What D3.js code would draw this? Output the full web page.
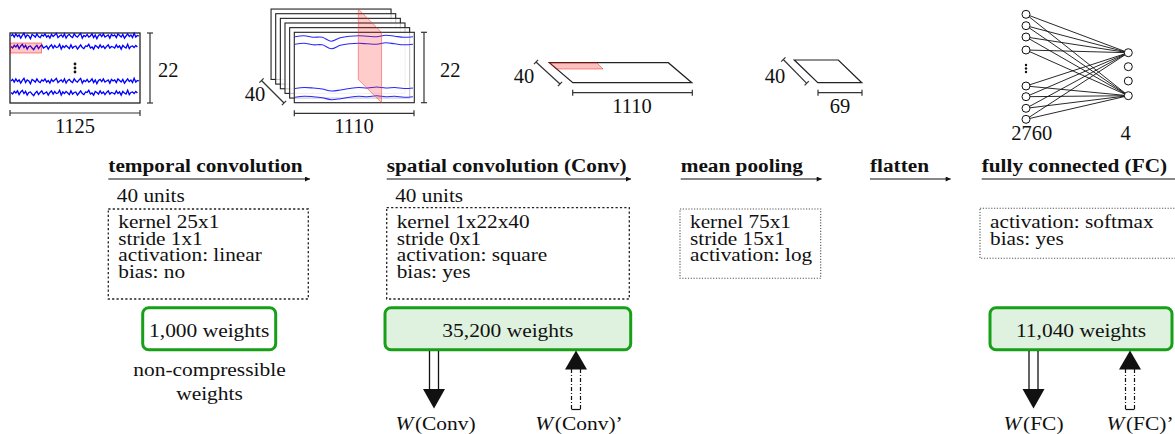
<!DOCTYPE html>
<html>
<head>
<meta charset="utf-8">
<script src="https://cdn.jsdelivr.net/npm/d3@7"></script>
<style>
  body { margin: 0; background: #fff; }
  svg { display: block; }
  svg text { font-family: 'Liberation Serif', 'Times New Roman', Times, serif; }
</style>
</head>
<body>
<svg id="fig" width="1175" height="434"></svg>
<script>
// ---- layer descriptions ----
var layerNames = ["temporal convolution", "spatial convolution (Conv)", "mean pooling", "flatten", "fully connected (FC)"];
var layerUnits = ["40 units", "40 units", null, null, null];
var layerParams = [
  ["kernel 25x1", "stride 1x1", "activation: linear", "bias: no"],
  ["kernel 1x22x40", "stride 0x1", "activation: square", "bias: yes"],
  ["kernel 75x1", "stride 15x1", "activation: log"],
  [],
  ["activation: softmax", "bias: yes"]
];
var weightCounts = [1000, 35200, null, null, 11040];
var weightNames = [null, "Conv", null, null, "FC"];
var weightNote = ["non-compressible", "weights"];

// ---- tensor sizes drawn above the layers ----
var inputDims = [1125, 22];
var tempConvDims = [1110, 22, 40];
var spatConvDims = [1110, 40];
var poolDims = [69, 40];
var fcSizes = [2760, 4];

// ---- signal shapes (px offsets) ----
var eegTraceA = [0, 1.5, -1, 2, -0.5, 1, -2, 0.5, 2.5, -1.5, 1, 0, -2.5, 1.5, 0.5, -1, 2, -0.5, -1.5, 1,
  0, 2, -1, 0.5, -2, 1.5, -0.5, 1, 2.5, -1.5, 0, 1, -1, 2, -2, 0.5, 1.5, -0.5, -1.5, 2,
  0, -1, 1, 2.5, -2, 0.5, -0.5, 1.5, -1, 0, 2, -1.5, 1, -2.5, 0.5, 1.5, -0.5, 2, -1, 0, 1, -2, 1.5, 0,
  1, -1.5, 2, 0.5, -1, 1.5, -2, 0, 2, -0.5, 1, -1.5, 2.5, -1, 0.5, 0];
var eegTraceB = [0.5, -1, 1.5, 0, 2, -1.5, 1, 2.5, -0.5, 1.5, -2, 0.5, 1, -1, -2.5, 0, 1.5, -1.5, 0.5, 2,
  -1, 0, 1, -2, 0.5, 2, -1, 1.5, -0.5, 0, 2.5, -2, 1, -0.5, 1.5, 0, -1.5, 2, -1, 0.5, 1,
  -2, 0, 2, -0.5, -1.5, 1, 0.5, 2.5, -1, 0, -2, 1.5, 0.5, -1, 2, -0.5, 1, -1.5, 0.5, 2, -1, 0.5, 0,
  -1, 2, -0.5, 1, -2, 1.5, 0, -1, 2.5, -1.5, 0.5, 1, -0.5, 1.5, 0];
var smoothTop = [0, -1, 0.5, 0.5, 4.5, 1, -0.5, -1, -0.5, 0, -1.5, -0.5, 0.5, 0];
var smoothBottom = [0.5, -0.5, 0, 1, 3, 2, 0.5, -0.5, 0, -1, 0, -0.5, 0.5, 0];

var svg = d3.select("#fig");
var SX = 1.12; // the original figure is a bit wider than tall
var FONT = "'Liberation Serif', 'Times New Roman', Times, serif";
var green = "#17a017", greenFill = "#dff2df";
var fmt = d3.format(",");

function label(x, y, s, o) {
  o = o || {};
  return svg.append("g")
    .attr("transform", "translate(" + x + "," + y + ") scale(" + (o.sx || SX) + ",1)")
    .append("text")
    .attr("font-family", FONT)
    .attr("text-anchor", o.anchor || "start")
    .attr("font-size", (o.size || 19) + "px")
    .attr("font-weight", o.bold ? "bold" : null)
    .attr("fill", "#111")
    .text(s);
}

function dimBar(x1, y1, x2, y2) {
  var dx = x2 - x1, dy = y2 - y1, len = Math.sqrt(dx * dx + dy * dy);
  var nx = -dy / len * 3, ny = dx / len * 3;
  var g = svg.append("g").attr("stroke", "#333").attr("stroke-width", 1.2);
  g.append("line").attr("x1", x1).attr("y1", y1).attr("x2", x2).attr("y2", y2);
  [[x1, y1], [x2, y2]].forEach(function(p) {
    g.append("line").attr("x1", p[0] - nx).attr("y1", p[1] - ny).attr("x2", p[0] + nx).attr("y2", p[1] + ny);
  });
}

// ---- input EEG ----
var eegX = d3.scaleLinear().domain([0, eegTraceA.length - 1]).range([11, 139]);
var eegY = d3.scaleLinear().domain([-3, 3]).range([3.2, -3.2]);
svg.append("rect").attr("x", 10).attr("y", 33).attr("width", 130).attr("height", 70)
  .attr("fill", "#fff").attr("stroke", "#222").attr("stroke-width", 1.3);
[[36, eegTraceA], [47, eegTraceB], [81, eegTraceA], [93, eegTraceB]].forEach(function(r) {
  svg.append("path").datum(r[1])
    .attr("fill", "none").attr("stroke", "#0000ff").attr("stroke-width", 1.3)
    .attr("d", d3.line().x(function(d, i) { return eegX(i); }).y(function(d) { return r[0] + eegY(d); }));
});
svg.append("rect").attr("x", 10.5).attr("y", 43).attr("width", 31).attr("height", 10)
  .attr("fill", "rgba(255,0,0,0.22)").attr("stroke", "rgba(230,0,0,0.45)");
[64, 68, 72].forEach(function(y) {
  svg.append("circle").attr("cx", 75).attr("cy", y).attr("r", 1.4).attr("fill", "#111");
});
dimBar(150, 33, 150, 103);
label(158, 77, inputDims[1], { size: 20.5, sx: 1 });
dimBar(10, 113, 140, 113);
label(75, 133, inputDims[0], { size: 20.5, sx: 1, anchor: "middle" });

// ---- temporal convolution output: stack of feature maps ----
var step = 4.65, fx = 294.3, fy = 32.3, fw = 120, fh = 70.4;
d3.range(6).reverse().forEach(function(k) {
  svg.append("rect").attr("x", fx - k * step).attr("y", fy - k * step).attr("width", fw).attr("height", fh)
    .attr("fill", "#fff").attr("fill-opacity", 0.75).attr("stroke", "#222").attr("stroke-width", 1.1);
});
var smX = d3.scaleLinear().domain([0, smoothTop.length - 1]).range([295, 413]);
[[36.7, smoothTop], [44.3, smoothTop], [88, smoothBottom], [96.7, smoothBottom]].forEach(function(r) {
  svg.append("path").datum(r[1])
    .attr("fill", "none").attr("stroke", "#2a2aff").attr("stroke-width", 1.1)
    .attr("d", d3.line().curve(d3.curveCatmullRom)
      .x(function(d, i) { return smX(i); }).y(function(d) { return r[0] + d; }));
});
var px = 358.3, pd = 5 * step;
svg.append("path")
  .attr("d", "M" + px + "," + (fy - pd) + "L" + (px + pd) + "," + fy + "L" + (px + pd) + "," + (fy + fh) +
    "L" + px + "," + (fy - pd + fh) + "Z")
  .attr("fill", "rgba(255,0,0,0.2)").attr("stroke", "rgba(240,60,60,0.5)");
dimBar(424, 32.3, 424, 102.7);
label(440, 77, tempConvDims[1], { size: 20.5, sx: 1 });
dimBar(294.3, 113.3, 414, 113.3);
label(354, 133, tempConvDims[0], { size: 20.5, sx: 1, anchor: "middle" });
dimBar(261.5, 80.5, 284, 103);
label(255, 101, tempConvDims[2], { size: 20.5, sx: 1, anchor: "middle" });

// ---- flat sheets ----
function sheet(x0, y0, w, dx, dy) {
  svg.append("path")
    .attr("d", "M" + x0 + "," + y0 + "h" + w + "l" + dx + "," + dy + "h" + (-w) + "Z")
    .attr("fill", "#fff").attr("stroke", "#222").attr("stroke-width", 1.2);
}
sheet(549.3, 62.7, 119, 23.5, 20);
svg.append("path").attr("d", "M549.3,62.7H596.7L603,69H556Z")
  .attr("fill", "rgba(255,0,0,0.25)").attr("stroke", "rgba(230,0,0,0.4)");
dimBar(536, 62, 560, 84);
label(524, 83.3, spatConvDims[1], { size: 20.5, sx: 1, anchor: "middle" });
dimBar(572.7, 92.7, 692.3, 92.7);
label(632, 113, spatConvDims[0], { size: 20.5, sx: 1, anchor: "middle" });

sheet(794.3, 60, 44, 23.5, 22.7);
dimBar(783.3, 59.5, 806.7, 83.3);
label(775, 83, poolDims[1], { size: 20.5, sx: 1, anchor: "middle" });
dimBar(818, 92.7, 862, 92.7);
label(840, 113, poolDims[0], { size: 20.5, sx: 1, anchor: "middle" });

// ---- fully connected network ----
var inY = [14.3, 25.7, 37, 50, 86, 96.7, 108.3, 119.3];
var outY = [52.7, 66.7, 81, 95.7];
var inX = 1026, outX = 1128.3;
inY.forEach(function(y) {
  [outY[0], outY[3]].forEach(function(y2) {
    svg.append("line").attr("x1", inX).attr("y1", y).attr("x2", outX).attr("y2", y2)
      .attr("stroke", "#111").attr("stroke-width", 0.9);
  });
});
inY.forEach(function(y) {
  svg.append("circle").attr("cx", inX).attr("cy", y).attr("r", 4).attr("fill", "#fff").attr("stroke", "#111");
});
outY.forEach(function(y) {
  svg.append("circle").attr("cx", outX).attr("cy", y).attr("r", 4).attr("fill", "#fff").attr("stroke", "#111");
});
[65, 68.5, 72].forEach(function(y) {
  svg.append("circle").attr("cx", inX).attr("cy", y).attr("r", 1.2).attr("fill", "#111");
});
label(1031.7, 140, fcSizes[0], { size: 20.5, sx: 1, anchor: "middle" });
label(1125.5, 140, fcSizes[1], { size: 20.5, sx: 1, anchor: "middle" });

// ---- layer headers, units and parameter boxes ----
svg.append("defs").append("marker").attr("id", "ah")
  .attr("viewBox", "0 0 10 10").attr("refX", 10).attr("refY", 5)
  .attr("markerWidth", 6).attr("markerHeight", 5).attr("markerUnits", "userSpaceOnUse").attr("orient", "auto")
  .append("path").attr("d", "M0,0L10,5L0,10Z").attr("fill", "#111");

var headX = [108.3, 386.7, 680.7, 870, 981.7];
var headEnd = [310, 631, 821.7, 950.7, 1200];
var boxes = [[108.3, 308.3, 209, 299], [386.7, 629.3, 207.7, 299], [680, 820.7, 209, 278.3], null, [980, 1190, 208.3, 258.3]];
layerNames.forEach(function(name, i) {
  label(headX[i], 171.7, name, { bold: true });
  svg.append("line").attr("x1", headX[i]).attr("y1", 179).attr("x2", headEnd[i]).attr("y2", 179)
    .attr("stroke", "#111").attr("stroke-width", 1.2).attr("marker-end", "url(#ah)");
  if (layerUnits[i]) label(headX[i] + 8.5, 201.5, layerUnits[i]);
  var b = boxes[i];
  if (!b) return;
  var strong = i < 2;
  svg.append("rect").attr("x", b[0]).attr("y", b[2]).attr("width", b[1] - b[0]).attr("height", b[3] - b[2])
    .attr("fill", "none").attr("stroke", strong ? "#222" : "#555")
    .attr("stroke-width", strong ? 1.3 : 1.1).attr("stroke-dasharray", strong ? "2.2,2.2" : "1.2,1.6");
  layerParams[i].forEach(function(p, j) {
    label(b[0] + 10, 228.3 + j * 16.5, p);
  });
});

// ---- weight boxes ----
var wBox = [[142.7, 275.7], [385, 630.7], null, null, [990, 1172]];
weightCounts.forEach(function(w, i) {
  if (w == null) return;
  var b = wBox[i];
  svg.append("rect").attr("x", b[0]).attr("y", 307.8).attr("width", b[1] - b[0]).attr("height", 42)
    .attr("rx", 6).attr("fill", weightNames[i] ? greenFill : "#fff")
    .attr("stroke", green).attr("stroke-width", 3);
  label((b[0] + b[1]) / 2, 336.5, fmt(w) + " weights", { anchor: "middle", size: 19.5, sx: 1.1 });
});
label(209.5, 376, weightNote[0], { anchor: "middle", size: 19.5, sx: 1.1 });
label(209.5, 400, weightNote[1], { anchor: "middle", size: 19.5, sx: 1.1 });

// ---- compression arrows ----
function downArrow(cx) {
  var g = svg.append("g").attr("stroke", "#111").attr("stroke-width", 1.3);
  g.append("line").attr("x1", cx - 4.5).attr("y1", 351).attr("x2", cx - 4.5).attr("y2", 390);
  g.append("line").attr("x1", cx + 4.5).attr("y1", 351).attr("x2", cx + 4.5).attr("y2", 390);
  svg.append("path").attr("d", "M" + (cx - 11) + ",389L" + (cx + 11) + ",389L" + cx + ",408.5Z").attr("fill", "#111");
}
function upArrow(cx) {
  var g = svg.append("g").attr("stroke", "#111").attr("stroke-width", 1.2);
  g.append("line").attr("x1", cx - 4.5).attr("y1", 369).attr("x2", cx - 4.5).attr("y2", 409.5).attr("stroke-dasharray", "4,2,1,2");
  g.append("line").attr("x1", cx + 4.5).attr("y1", 369).attr("x2", cx + 4.5).attr("y2", 409.5).attr("stroke-dasharray", "4,2,1,2");
  g.append("line").attr("x1", cx - 4.5).attr("y1", 409.5).attr("x2", cx + 4.5).attr("y2", 409.5);
  svg.append("path").attr("d", "M" + (cx - 11) + ",369.5L" + (cx + 11) + ",369.5L" + cx + ",350.5Z").attr("fill", "#111");
}
function wLabel(x, name, prime) {
  var t = label(x, 429.5, "", { anchor: "middle", size: 19.5, sx: 1.1 });
  t.append("tspan").attr("font-style", "italic").text("W");
  t.append("tspan").attr("dx", 1.5).text("(" + name + ")" + (prime ? "\u2019" : ""));
}
downArrow(434); upArrow(576);
wLabel(435.5, weightNames[1], false); wLabel(579, weightNames[1], true);
downArrow(1033.5); upArrow(1130);
wLabel(1033.5, weightNames[4], false); wLabel(1140, weightNames[4], true);
</script>
</body>
</html>
